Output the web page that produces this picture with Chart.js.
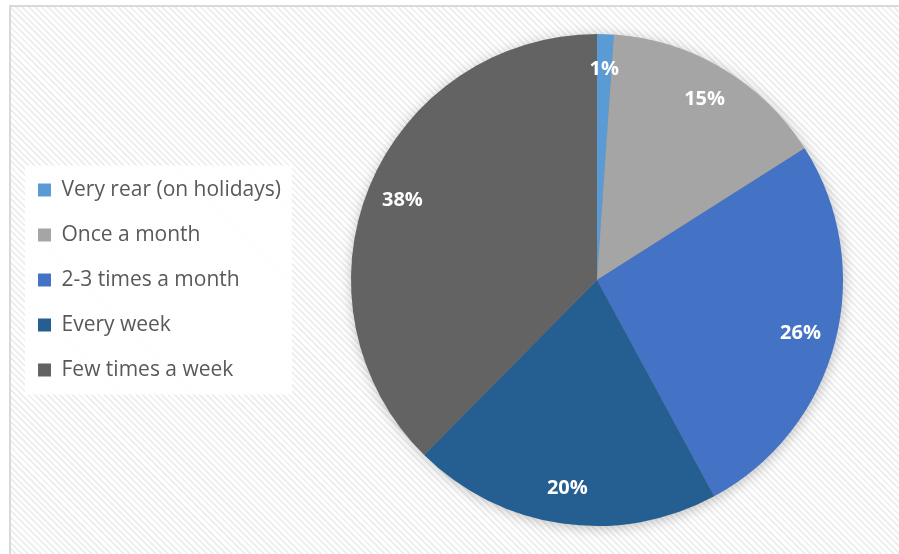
<!DOCTYPE html>
<html>
<head>
<meta charset="utf-8">
<script src="https://cdn.jsdelivr.net/npm/chart.js@4"></script>
<style>
  html, body { margin: 0; padding: 0; background: #fff; }
  body { width: 899px; height: 554px; overflow: hidden; position: relative; }
  #frame {
    position: absolute; left: 9px; top: 5px; width: 900px; height: 560px;
    border-left: 2px solid #d9d9d9; border-top: 2px solid #d9d9d9;
    background: repeating-linear-gradient(45deg, #ffffff 0px, #ffffff 2.5px, #efefef 2.5px, #efefef 4.5px);
  }
  #wrap { position: absolute; left: 0; top: 0; width: 903px; height: 554px; }
</style>
</head>
<body>
<div id="frame"></div>
<div id="wrap"><canvas id="c"></canvas></div>
<script>
// 外食の頻度：割合の円グラフ
const labels = ['Very rear (on holidays)', 'Once a month', '2-3 times a month', 'Every week', 'Few times a week'];
const shares = [1.1, 14.9, 26.1, 20.3, 37.6];
const colors = ['#5B9BD5', '#A5A5A5', '#4472C4', '#255E91', '#636363'];

const FONT = '"Open Sans", Lato, sans-serif';

// 凡例の後ろに白い箱
const legendBox = {
  id: 'legendBox',
  beforeDraw(chart) {
    const lg = chart.legend;
    if (!lg || !lg.legendHitBoxes.length) return;
    const hb = lg.legendHitBoxes;
    const x0 = Math.min(...hb.map(h => h.left)) - 13;
    const x1 = Math.max(...hb.map(h => h.left + h.width)) + 11;
    const y0 = Math.min(...hb.map(h => h.top)) - 14;
    const y1 = Math.max(...hb.map(h => h.top + h.height)) + 14;
    const ctx = chart.ctx;
    ctx.save(); ctx.fillStyle = 'rgba(255,255,255,0.92)';
    ctx.fillRect(x0, y0, x1 - x0, y1 - y0); ctx.restore();
  },
};

// 円の外側にぼかした影
const pieShadow = {
  id: 'pieShadow',
  beforeDatasetsDraw(chart) {
    const arc = chart.getDatasetMeta(0).data[0];
    if (!arc) return;
    const ctx = chart.ctx;
    ctx.save();
    ctx.shadowColor = 'rgba(0,0,0,0.28)'; ctx.shadowBlur = 14; ctx.shadowOffsetX = 1; ctx.shadowOffsetY = 2;
    ctx.fillStyle = '#888';
    ctx.beginPath(); ctx.arc(arc.x, arc.y, arc.outerRadius - 1, 0, Math.PI * 2); ctx.fill();
    ctx.restore();
  },
};

// 扇形の中に割合
const pctLabels = {
  id: 'pctLabels',
  afterDatasetsDraw(chart) {
    const ctx = chart.ctx;
    ctx.save();
    ctx.fillStyle = '#fff'; ctx.font = 'bold 20px ' + FONT;
    ctx.textAlign = 'center'; ctx.textBaseline = 'middle';
    chart.getDatasetMeta(0).data.forEach((a, i) => {
      const mid = (a.startAngle + a.endAngle) / 2;
      const r = a.outerRadius * 0.855;
      ctx.fillText(Math.round(shares[i]) + '%', a.x + Math.cos(mid) * r, a.y + Math.sin(mid) * r);
    });
    ctx.restore();
  },
};

new Chart(document.getElementById('c'), {
  type: 'pie',
  data: {
    labels,
    datasets: [{ data: shares, backgroundColor: colors, borderWidth: 0 }],
  },
  options: {
    responsive: true, maintainAspectRatio: false, animation: false,
    layout: { padding: { left: 14, top: 34, bottom: 28, right: 0 } },
    plugins: {
      legend: {
        position: 'left',
        labels: { font: { family: FONT, size: 21 }, color: '#595959', boxWidth: 13, boxHeight: 13, padding: 24 },
      },
      tooltip: { enabled: false },
    },
  },
  plugins: [legendBox, pieShadow, pctLabels],
});
</script>
</body>
</html>
